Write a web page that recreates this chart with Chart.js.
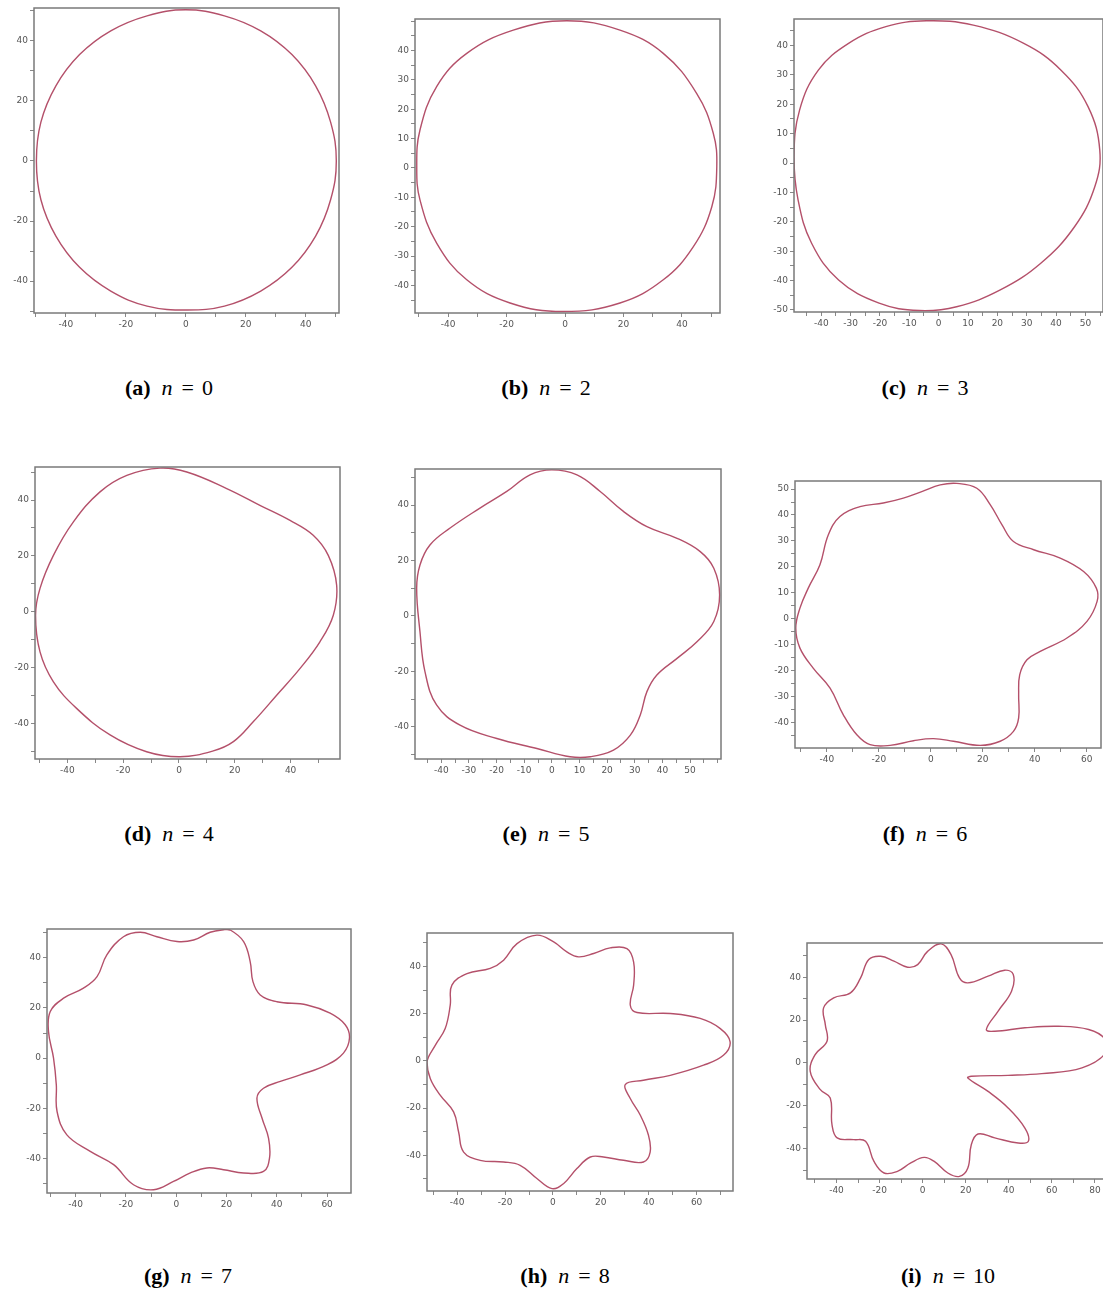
<!DOCTYPE html>
<html>
<head>
<meta charset="utf-8">
<script src="https://cdn.jsdelivr.net/npm/chart.js@4"></script>
<style>
  html, body { margin: 0; padding: 0; background: #fff; overflow: hidden; }
  #page { position: relative; width: 1103px; height: 1299px; }
  canvas { position: absolute; }
  .cap { position: absolute; font-family: "Liberation Serif", "DejaVu Serif", serif; font-size: 22px; line-height: 26px; white-space: nowrap; transform: translateX(-50%); color: #000; }
  .cap i { margin-left: 11px; }
  .cap .eq { margin: 0 8px 0 9px; }
</style>
</head>
<body>
<div id="page"></div>
<script>
// curve points (clockwise from the top)
const aX = [0, 12.9, 25, 35.4, 43.3, 48.3, 50.2, 48.3, 43.3, 35.4, 25, 12.9, 0.5, -12.9, -25, -35.4, -43.3, -48.3, -49.8, -48.3, -43.3, -35.4, -25, -12.9];
const aY = [50.3, 48.3, 43.3, 35.4, 25, 12.9, 0, -12.9, -25, -35.4, -43.3, -48.3, -49.6, -48.3, -43.3, -35.4, -25, -12.9, 0, 12.9, 25, 35.4, 43.3, 48.3];

const bX = [0.6, 18.8, 33.6, 45, 50.7, 51.9, 50.2, 43.9, 33.6, 18.8, -0.6, -18.8, -33.6, -43.9, -49.6, -50.7, -49.6, -43.9, -33.6, -17.7];
const bY = [50.1, 46.9, 39, 25.4, 11.8, 0.4, -13.2, -26.8, -38.1, -46, -48.9, -46, -38.1, -25.6, -10.9, 0.4, 12.9, 27.7, 39, 46.9];

const cX = [-4.2, 11.8, 29, 41.7, 50.9, 54.9, 53.2, 46.3, 34.8, 21, 6.1, -6.6, -20.3, -34.1, -43.3, -47.9, -49.3, -47.4, -41, -30.7, -18];
const cY = [48.4, 46.9, 40.7, 31.6, 19.2, 4.4, -8.1, -21.7, -34.1, -43.2, -48.9, -50.2, -47.7, -39.8, -27.3, -12.6, 2.1, 18, 31.6, 40.7, 46.4];

const dX = [-6.8, 2.8, 17.1, 29, 39.8, 48.1, 53.5, 56.5, 55.3, 50.5, 43.4, 35, 26.6, 19.5, 12.3, 0.4, -11.6, -24.7, -36.7, -45, -49.8, -51.4, -49.8, -45, -37.9, -28.3, -18.7];
const dY = [51.4, 50, 44.1, 38.1, 32.7, 27.4, 20.2, 9.5, -1.2, -10.7, -20.2, -29.8, -39.3, -46.4, -49.7, -51.8, -50, -44, -34.5, -25, -14.3, -1.2, 8.4, 20.2, 32.1, 42.9, 48.8];

const eX = [0, 9.1, 17.5, 25.9, 34.4, 45.3, 53.7, 58.6, 60.7, 58.6, 52.5, 45.3, 38, 34.4, 32, 28.4, 22.3, 13.9, 6.6, -5.4, -19.9, -33.2, -41.7, -45.9, -47.7, -48.9, -47.7, -44.1, -36.8, -26, -16.3, -7.9];
const eY = [52.7, 50.9, 44.9, 37.7, 32.2, 28, 23.2, 17.2, 7.6, -2, -9.3, -15.3, -21.3, -27.3, -35.7, -43, -48.4, -50.8, -50.8, -47.8, -44.2, -39.4, -32.1, -20.1, -5.7, 10, 18.4, 25.6, 31.7, 38.9, 44.9, 50.9];

const fX = [10, 17.7, 22.9, 27.4, 31.8, 39.6, 49.8, 58.8, 63.7, 64, 60.1, 52.4, 42.1, 37, 34.2, 33.8, 33.8, 31.8, 26.7, 19, 8.7, 1, -6.7, -15.7, -23.4, -28.5, -33.7, -38.8, -45.3, -50.4, -52, -50.4, -47.2, -42.7, -39.5, -35, -27.3, -18.3, -10.6, -3.5, 3.6];
const fY = [52.2, 50.3, 43.9, 36.2, 29.8, 26.6, 23.4, 18.2, 11.8, 6.7, -1, -7.4, -12.6, -15.8, -21.6, -29.3, -38.2, -43.4, -47.2, -48.8, -47.2, -46.2, -47, -48.8, -48.5, -44.7, -37, -26.7, -19, -11.3, -3.6, 4.1, 11.8, 20.8, 32.3, 39.4, 43.2, 44.6, 46.5, 49, 51.6];

const gX = [21.5, 26.8, 29.4, 30.5, 33.4, 40, 52, 61.2, 67.2, 68.9, 66.5, 59.9, 49.3, 41.4, 34.7, 32.1, 34.1, 36.7, 37.1, 34.7, 26.8, 18.8, 12.2, 5.6, -1.1, -9, -17, -24.9, -34.2, -43.5, -47.4, -47.7, -48.8, -50.8, -50.1, -44.8, -36.9, -31.5, -27.6, -21, -14.3, -7.7, 0.3, 6.9, 13.5, 18.8];
const gY = [51.1, 46.5, 38.5, 30.5, 25.2, 22.5, 21.2, 17.9, 13.3, 8, 2, -2.7, -6.7, -9.3, -12, -15.9, -23.9, -31.9, -39.8, -45.2, -45.8, -44.5, -43.8, -45.8, -49.2, -52.5, -50.5, -42.5, -37.2, -30.6, -21.3, -10.6, 0, 10.6, 18.6, 23.9, 27.9, 32.5, 41.2, 48.4, 50.2, 48.4, 46.5, 47.1, 50.2, 51.2];

const hX = [-6.7, 0.3, 5.8, 10.7, 17, 23.9, 30.9, 33.7, 33.7, 32.3, 35.1, 49, 61.5, 69.9, 74, 71.2, 62.9, 49, 37.8, 30.2, 32.3, 36.5, 39.9, 40.6, 37.8, 29.5, 21.1, 15.6, 10, 4.4, -0.4, -6.7, -13.7, -20.6, -30.4, -37.3, -39.4, -41.5, -47.1, -51.2, -52.6, -49.1, -45, -42.9, -42.2, -35.9, -26.2, -20.6, -15];
const hY = [53.3, 50.4, 46.2, 44.1, 45.5, 47.9, 47.6, 41.9, 32.1, 23.6, 20.5, 20.1, 18, 13.7, 8.1, 2.4, -1.8, -6.1, -8.2, -10, -15.9, -23, -31.5, -38.6, -42.8, -42.1, -40.7, -40.7, -45.6, -52, -54.1, -49.8, -44.2, -42.8, -42.1, -38.6, -30.1, -21.6, -14.5, -7.5, -0.4, 6.7, 13.7, 23.6, 32.1, 37, 39.2, 42.7, 49.7];

const iX = [8.6, 13.2, 17.1, 21, 30.4, 38.1, 42.1, 41.3, 35, 29.6, 33.5, 47.5, 63.1, 77.1, 84.8, 85, 74, 55.3, 39.7, 22.6, 21, 30.4, 39.7, 47.5, 49.1, 44.4, 33.5, 25.7, 22.6, 21, 17.1, 11.7, 5.4, 0.7, -5.5, -11.7, -17.9, -22.6, -26.5, -32, -39.7, -42.1, -42.9, -47.5, -52.2, -49.9, -44.4, -45.2, -46, -41.3, -33.5, -28.8, -25, -19.5, -13.3, -7, -2.3, 2.3];
const iY = [55.6, 50.6, 39.7, 37.4, 40.5, 43.3, 41.3, 33.5, 24.1, 15.6, 14.8, 16.4, 17.1, 15.6, 11, 4.5, -2.3, -5, -5.8, -6.2, -7, -13.3, -21, -30.4, -36.6, -37.4, -35, -33.2, -38.2, -49.1, -53, -51.4, -46, -44.1, -46.7, -50.6, -51.4, -46, -36.6, -35.8, -35, -28.8, -16.4, -12.5, -3.9, 3.9, 10.1, 17.9, 25.7, 30.4, 32.7, 39.7, 48.3, 49.8, 47.5, 44.7, 45.9, 52.1];

// axis limits [xmin, xmax, ymin, ymax] and tick steps [minorX, labelX, minorY, labelY]
const limits = [
  [-50.6, 51.1, -50.6, 50.9], [-51.3, 53, -49.4, 50.7], [-49.3, 56, -50.7, 49],
  [-51.6, 57.7, -52.6, 51.8], [-49.5, 61.2, -51.6, 53], [-52.3, 65.5, -49.8, 53.1],
  [-51.4, 69.5, -53.8, 51.5], [-52.6, 75.2, -55.1, 54.2], [-53.7, 84.7, -54.2, 56]
];
const steps = [
  [10, 20, 10, 20], [10, 20, 5, 10], [5, 10, 5, 10],
  [10, 20, 10, 20], [5, 10, 10, 20], [10, 20, 5, 10],
  [10, 20, 10, 20], [10, 20, 10, 20], [10, 20, 10, 20]
];
const letters = ["a", "b", "c", "d", "e", "f", "g", "h", "i"];
const nValues = [0, 2, 3, 4, 5, 6, 7, 8, 10];

// layout: plot frame [left, top, right, bottom] in page pixels, caption centre [x, y]
const frames = [
  [34, 8, 339, 313], [415, 19, 720, 313], [794, 19, 1103, 312],
  [35, 467, 340, 759], [415, 469, 721, 759], [795, 481, 1101, 748],
  [47, 929, 351, 1193], [427, 933, 733, 1191], [807, 943, 1105, 1179]
];
const captions = [
  [169, 388], [546, 388], [925, 388],
  [169, 834], [546, 834], [925, 834],
  [188, 1276], [565, 1276], [948, 1276]
];

const curves = [[aX, aY], [bX, bY], [cX, cY], [dX, dY], [eX, eY], [fX, fY], [gX, gY], [hX, hY], [iX, iY]];
const LINE = "#b4506a";

function loop(xs, ys) {
  let n = xs.length;
  let pts = [{ x: xs[n - 1], y: ys[n - 1] }];
  for (let i = 0; i < n; i++) pts.push({ x: xs[i], y: ys[i] });
  pts.push({ x: xs[0], y: ys[0] });
  pts.push({ x: xs[1], y: ys[1] });
  return pts;
}

const framePlugin = {
  id: "frame",
  afterDatasetsDraw(chart) {
    let a = chart.chartArea, ctx = chart.ctx;
    ctx.save();
    ctx.strokeStyle = "#7a7a7a";
    ctx.lineWidth = 1.5;
    ctx.strokeRect(a.left, a.top, a.right - a.left, a.bottom - a.top);
    ctx.restore();
  }
};

function axis(min, max, step, labelStep, isY) {
  return {
    type: "linear",
    min: min,
    max: max,
    border: { display: false },
    grid: { drawOnChartArea: false, drawTicks: true, tickLength: 4, color: "#888" },
    ticks: {
      stepSize: step,
      includeBounds: false,
      autoSkip: false,
      maxTicksLimit: 100,
      maxRotation: 0,
      padding: 2,
      color: "#555",
      font: { family: "DejaVu Sans", size: 9 },
      callback: (v) => {
        let r = Math.round(v);
        // the last tick right at the top/right edge carries no label
        if (r > max - 1.5) return "";
        return r % labelStep === 0 ? String(r) : "";
      }
    },
    afterFit: (scale) => {
      if (isY) scale.width = 40; else scale.height = 30;
      scale.paddingLeft = 0; scale.paddingRight = 0;
      scale.paddingTop = 0; scale.paddingBottom = 0;
    }
  };
}

let page = document.getElementById("page");

curves.forEach((c, k) => {
  let f = frames[k];
  let w = f[2] - f[0] + 50, h = f[3] - f[1] + 40;
  let cv = document.createElement("canvas");
  cv.width = w; cv.height = h;
  cv.style.left = (f[0] - 40) + "px";
  cv.style.top = (f[1] - 10) + "px";
  cv.style.width = w + "px"; cv.style.height = h + "px";
  page.appendChild(cv);

  let data = loop(c[0], c[1]);
  let last = data.length - 2;
  let lim = limits[k], st = steps[k];

  new Chart(cv.getContext("2d"), {
    type: "scatter",
    data: {
      datasets: [{
        data: data,
        showLine: true,
        tension: 0.4,
        borderColor: LINE,
        borderWidth: 1.4,
        pointRadius: 0,
        fill: false,
        segment: {
          borderColor: (ctx) => (ctx.p0DataIndex === 0 || ctx.p0DataIndex === last) ? "rgba(0,0,0,0)" : LINE
        }
      }]
    },
    options: {
      responsive: false,
      animation: false,
      layout: { padding: { left: 0, top: 10, right: 10, bottom: 0 } },
      plugins: { legend: { display: false }, tooltip: { enabled: false } },
      scales: {
        x: axis(lim[0], lim[1], st[0], st[1], false),
        y: axis(lim[2], lim[3], st[2], st[3], true)
      }
    },
    plugins: [framePlugin]
  });

  let cap = document.createElement("div");
  cap.className = "cap";
  cap.style.left = captions[k][0] + "px";
  cap.style.top = (captions[k][1] - 13) + "px";
  cap.innerHTML = "<b>(" + letters[k] + ")</b><i>n</i><span class=\"eq\">=</span>" + nValues[k];
  page.appendChild(cap);
});
</script>
</body>
</html>
